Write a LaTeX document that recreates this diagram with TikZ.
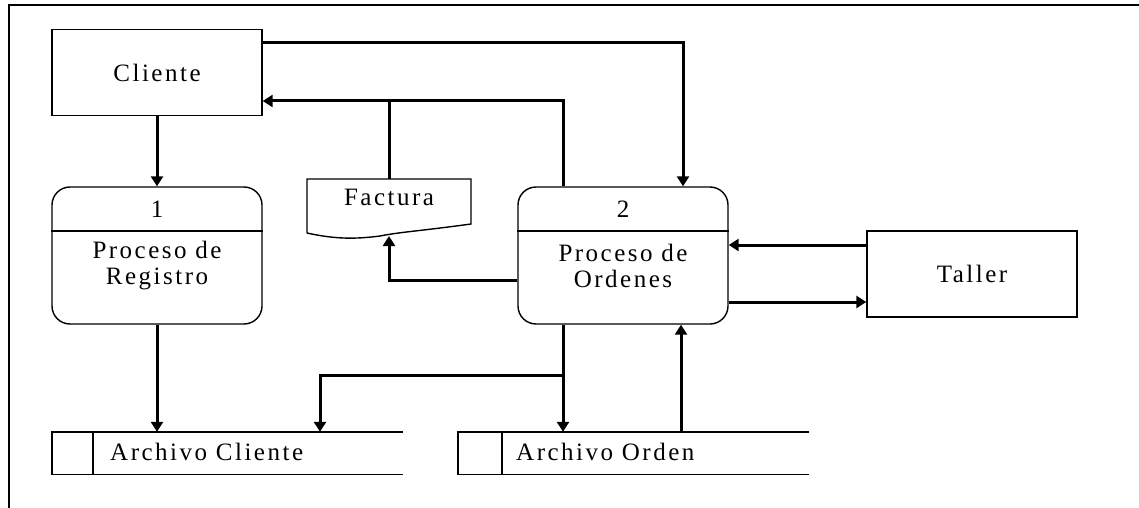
\documentclass[tikz,border=0pt]{standalone}
\usepackage{fontspec}
\setmainfont{Liberation Serif}[LetterSpace=10]
\usetikzlibrary{arrows.meta, positioning, calc}

\begin{document}
\begin{tikzpicture}[x=1pt, y=-1pt,
  ent/.style={draw, line width=1.4pt, minimum width=210pt, minimum height=86pt,
              font=\fontsize{25}{26}\selectfont},
  proc/.style={draw, line width=1.4pt, rounded corners=18pt,
               minimum width=210pt, minimum height=137pt},
  txt/.style={font=\fontsize{25}{26}\selectfont, align=center, inner sep=0pt},
  store/.style={minimum width=351pt, minimum height=42pt, inner sep=0pt},
  arr/.style={-{Triangle[length=10pt, width=12pt]}, line width=3pt},
  ln/.style={line width=3pt},
]
  \useasboundingbox (0,0) rectangle (1139,508);
  \draw[line width=1.6pt] (9,508) -- (9,5) -- (1139,5);

  % entities
  \node[ent] (cliente) at (157,72.5) {Cliente};
  \node[ent] (taller) at (972,274) {Taller};

  % processes
  \node[proc] (proc1) at (157,255.5) {};
  \draw[line width=1.4pt] (proc1.west |- 0,231) -- (proc1.east |- 0,231);
  \node[txt] (num1) at (157,209) {1};
  \node[txt] (reg) at (157,266) {Proceso de\\Registro};

  \node[proc] (proc2) at (623,255.5) {};
  \draw[line width=1.4pt] (proc2.west |- 0,231) -- (proc2.east |- 0,231);
  \node[txt] (num2) at (623,209) {2};
  \node[txt] (ord) at (623,266) {Proceso de\\Ordenes};

  % document
  \node[txt] (factura) at (389,197) {Factura};
  \coordinate (fac-n) at (389,179);
  \coordinate (fac-s) at (389,236);
  \draw[line width=1.4pt] (307,233) -- (307,179) -- (471,179) -- (471,224)
    .. controls (420,231) and (400,232) .. (380,236)
    .. controls (350,240) and (330,238) .. (307,233);

  % data stores
  \node[store] (archcli) at (227.5,453) {};
  \draw[line width=1.4pt] (archcli.north east) -- (archcli.north west)
    -- (archcli.south west) -- (archcli.south east);
  \draw[line width=1.4pt] ($(archcli.north west)+(41,0)$) -- ($(archcli.south west)+(41,0)$);
  \node[txt, anchor=west] at (110,452) {Archivo Cliente};

  \node[store] (archord) at (633.5,453) {};
  \draw[line width=1.4pt] (archord.north east) -- (archord.north west)
    -- (archord.south west) -- (archord.south east);
  \draw[line width=1.4pt] ($(archord.north west)+(44,0)$) -- ($(archord.south west)+(44,0)$);
  \node[txt, anchor=west] at (516,452) {Archivo Orden};

  % flows
  \draw[arr] (cliente) -- (proc1);
  \draw[arr] (proc1.south) -- (proc1.south |- archcli.north);
  \draw[arr] (cliente.east |- 0,43) -| ([xshift=60pt]proc2.north);
  \draw[arr] ([xshift=-60pt]proc2.north) |- (cliente.east |- 0,101);
  \draw[ln] (fac-n |- 0,101) -- (fac-n);
  \draw[arr] (proc2.west |- 0,280) -| (fac-s);
  \draw[arr] (taller.west |- 0,245) -- (proc2.east |- 0,245);
  \draw[arr] (proc2.east |- 0,302) -- (taller.west |- 0,302);
  \coordinate (split) at ([xshift=-60pt]proc2.south |- 0,375);
  \draw[arr] ([xshift=-60pt]proc2.south) -- (archord.north -| split);
  \draw[arr] (split) -| (archcli.north -| 320,0);
  \draw[arr] (archord.north -| 681,0) -- ([xshift=58pt]proc2.south);
\end{tikzpicture}
\end{document}
